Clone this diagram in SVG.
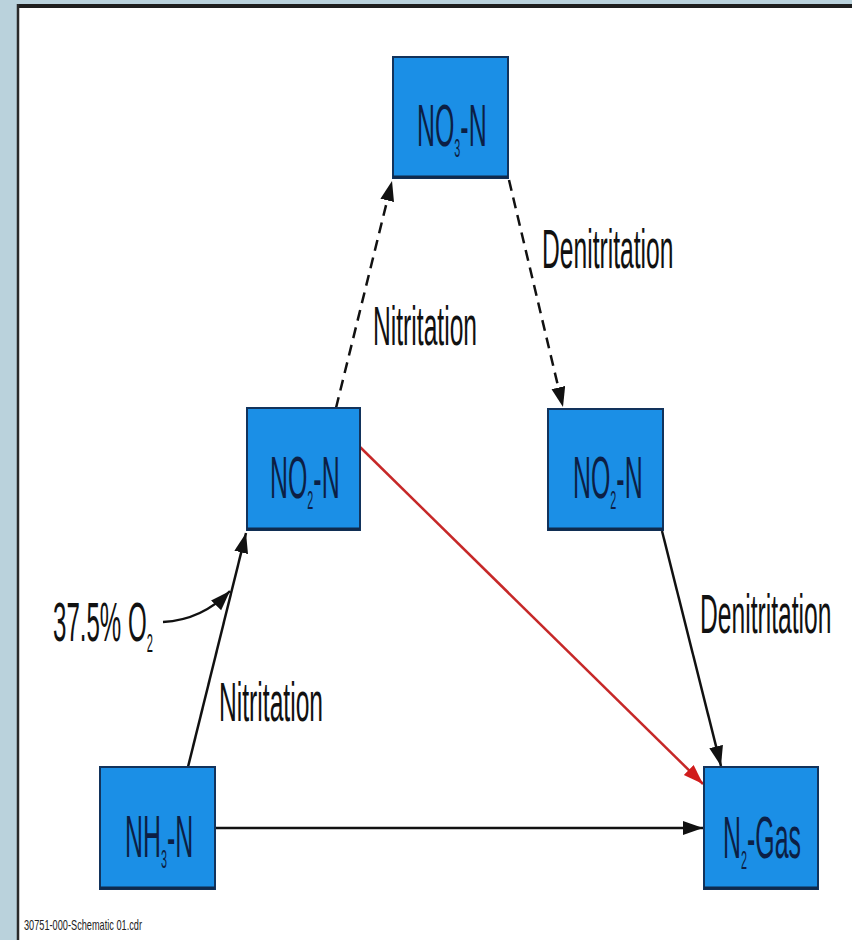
<svg xmlns="http://www.w3.org/2000/svg" width="852" height="940" viewBox="0 0 852 940">
  <style>
    .box rect.body { fill: #1b8fe6; stroke: #12335c; stroke-width: 2; }
    .box line.base { stroke: #0f2a4d; stroke-width: 3; }
    .box text { font-family: "Liberation Sans", Arial, sans-serif; font-size: 60px; fill: #0c1f45; }
    .lbl { font-family: "Liberation Sans", Arial, sans-serif; font-size: 56px; fill: #111; }
    .sub { font-size: 26px; }
    .flow { fill: none; stroke: #111; stroke-width: 2.5; }
    .dash { stroke-dasharray: 11 7; }
    .red { stroke: #c62828; }
  </style>
  <defs>
    <marker id="head" markerUnits="userSpaceOnUse" markerWidth="22" markerHeight="16" refX="20" refY="7" orient="auto">
      <path d="M0,0 L20,7 L0,14 z" fill="#111"/>
    </marker>
    <marker id="headRed" markerUnits="userSpaceOnUse" markerWidth="22" markerHeight="16" refX="20" refY="7" orient="auto">
      <path d="M0,0 L20,7 L0,14 z" fill="#d01c1c"/>
    </marker>
  </defs>

  <!-- page frame -->
  <rect x="0" y="0" width="852" height="940" fill="#ffffff"/>
  <rect x="0" y="0" width="17" height="940" fill="#bad2dc"/>
  <rect x="0" y="0" width="852" height="4" fill="#bad2dc"/>
  <line x1="17" y1="6" x2="852" y2="6" stroke="#1e1e1e" stroke-width="4"/>
  <line x1="18" y1="4" x2="18" y2="940" stroke="#2a2a2a" stroke-width="2.5"/>

  <!-- connectors -->
  <g id="connectors">
    <path class="flow" d="M188,767 L246,533" marker-end="url(#head)"/>
    <path class="flow" d="M163,622 Q202,620 230,591" marker-end="url(#head)"/>
    <path class="flow dash" d="M336,408 L392,181" marker-end="url(#head)"/>
    <path class="flow dash" d="M509,180 L563,407" marker-end="url(#head)"/>
    <path class="flow" d="M662,531 L721,766" marker-end="url(#head)"/>
    <path class="flow red" d="M360,447 L703,784" marker-end="url(#headRed)"/>
    <path class="flow" d="M215,828 L703,828" marker-end="url(#head)"/>
  </g>

  <!-- nodes -->
  <g id="no3" class="box">
    <rect class="body" x="393" y="57" width="115" height="121"/>
    <line class="base" x1="393" y1="177" x2="508" y2="177"/>
    <text transform="translate(417,146) scale(0.415,1)">NO<tspan class="sub" dy="11">3</tspan><tspan dy="-11">-N</tspan></text>
  </g>
  <g id="no2-left" class="box">
    <rect class="body" x="247" y="408" width="113" height="122"/>
    <line class="base" x1="247" y1="529" x2="360" y2="529"/>
    <text transform="translate(270,498) scale(0.415,1)">NO<tspan class="sub" dy="11">2</tspan><tspan dy="-11">-N</tspan></text>
  </g>
  <g id="no2-right" class="box">
    <rect class="body" x="548" y="409" width="115" height="121"/>
    <line class="base" x1="548" y1="529" x2="663" y2="529"/>
    <text transform="translate(573,498) scale(0.415,1)">NO<tspan class="sub" dy="11">2</tspan><tspan dy="-11">-N</tspan></text>
  </g>
  <g id="nh3" class="box">
    <rect class="body" x="100" y="767" width="115" height="122"/>
    <line class="base" x1="100" y1="888" x2="215" y2="888"/>
    <text transform="translate(125,857) scale(0.415,1)">NH<tspan class="sub" dy="11">3</tspan><tspan dy="-11">-N</tspan></text>
  </g>
  <g id="n2gas" class="box">
    <rect class="body" x="704" y="767" width="114" height="122"/>
    <line class="base" x1="704" y1="888" x2="818" y2="888"/>
    <text transform="translate(723,858) scale(0.415,1)">N<tspan class="sub" dy="11">2</tspan><tspan dy="-11">-Gas</tspan></text>
  </g>

  <!-- reaction labels -->
  <g id="labels">
    <text class="lbl" transform="translate(542,268) scale(0.44,1)">Denitritation</text>
    <text class="lbl" transform="translate(373,345) scale(0.44,1)">Nitritation</text>
    <text class="lbl" transform="translate(700,633) scale(0.44,1)">Denitritation</text>
    <text class="lbl" transform="translate(219,721) scale(0.44,1)">Nitritation</text>
    <text class="lbl" transform="translate(53,641) scale(0.43,1)">37.5% O<tspan class="sub" dy="11">2</tspan></text>
  </g>

  <text x="24" y="930" font-family="Liberation Sans, Arial, sans-serif" font-size="15" fill="#222" textLength="118" lengthAdjust="spacingAndGlyphs">30751-000-Schematic 01.cdr</text>
</svg>
